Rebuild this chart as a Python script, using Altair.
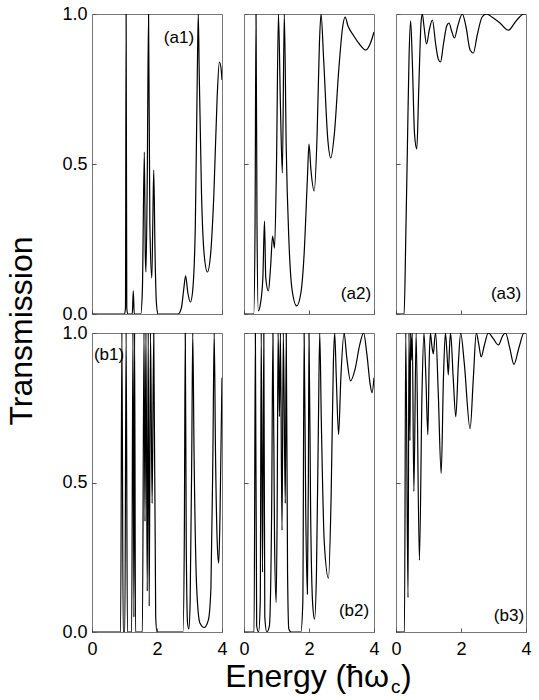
import altair as alt
import pandas as pd

FONT = "Liberation Sans"

# ---------------- data ----------------
a1_E = [0.0, 1.00, 1.03, 1.05, 1.07, 1.10, 1.24, 1.27, 1.30, 1.33, 1.50, 1.55, 1.61, 1.64, 1.66,
        1.70, 1.74, 1.78, 1.84, 1.87, 1.90, 1.94, 1.98, 2.03, 2.65, 2.75, 2.82, 2.88, 2.95, 3.03,
        3.10, 3.18, 3.24, 3.27, 3.30, 3.37, 3.45, 3.55, 3.65, 3.75, 3.85, 3.92, 3.97, 4.0]
a1_T = [0.0, 0.0, 0.02, 1.0, 0.02, 0.0, 0.0, 0.077, 0.0, 0.0, 0.0, 0.08, 0.54, 0.2, 0.14,
        0.45, 1.0, 0.3, 0.12, 0.3, 0.48, 0.2, 0.04, 0.0, 0.0, 0.02, 0.08, 0.127, 0.07, 0.04,
        0.08, 0.3, 0.8, 1.0, 0.8, 0.4, 0.2, 0.14, 0.2, 0.4, 0.72, 0.84, 0.82, 0.78]

a2_E = [0.0, 0.30, 0.34, 0.37, 0.40, 0.44, 0.50, 0.58, 0.63, 0.67, 0.75, 0.82, 0.88, 0.94, 1.00,
        1.06, 1.12, 1.18, 1.24, 1.30, 1.38, 1.48, 1.62, 1.75, 1.85, 1.95, 2.00, 2.06, 2.16, 2.25,
        2.32, 2.37, 2.45, 2.58, 2.67, 2.78, 2.92, 3.04, 3.11, 3.20, 3.36, 3.55, 3.75, 3.88, 4.0]
a2_T = [0.0, 0.0, 0.3, 1.0, 0.3, 0.01, 0.03, 0.12, 0.31, 0.12, 0.077, 0.16, 0.26, 0.22, 0.5,
        1.0, 0.7, 0.47, 1.0, 0.55, 0.25, 0.08, 0.027, 0.07, 0.2, 0.45, 0.566, 0.48, 0.41, 0.6,
        0.9, 1.0, 0.85, 0.58, 0.52, 0.6, 0.82, 0.96, 0.99, 0.96, 0.93, 0.9, 0.88, 0.9, 0.94]

a3_E = [0.0, 0.25, 0.30, 0.35, 0.40, 0.45, 0.50, 0.57, 0.64, 0.70, 0.77, 0.81, 0.86, 0.94, 1.03,
        1.12, 1.22, 1.30, 1.37, 1.46, 1.56, 1.63, 1.72, 1.80, 1.90, 2.04, 2.15, 2.28, 2.38, 2.50,
        2.65, 2.79, 2.95, 3.20, 3.46, 3.65, 3.80, 3.94, 4.0]
a3_T = [0.0, 0.0, 0.25, 0.55, 0.85, 0.977, 0.85, 0.6, 0.55, 0.75, 0.97, 1.0, 0.96, 0.90, 0.95,
        0.98, 0.9, 0.85, 0.84, 0.9, 0.96, 0.97, 0.94, 0.92, 0.96, 1.0, 0.96, 0.88, 0.87, 0.93,
        0.99, 1.0, 0.99, 0.97, 0.946, 0.97, 0.99, 1.0, 1.0]

b1_E = [0.0, 0.88, 0.92, 0.96, 1.01, 1.05, 1.09, 1.22, 1.26, 1.29, 1.31, 1.34, 1.55, 1.60, 1.63,
        1.66, 1.70, 1.73, 1.76, 1.80, 1.85, 1.90, 1.96, 2.00, 2.80, 2.84, 2.87, 2.90, 2.94, 2.98,
        3.02, 3.07, 3.10, 3.14, 3.22, 3.32, 3.45, 3.58, 3.66, 3.72, 3.76, 3.80, 3.86, 3.90, 3.94, 4.0]
b1_T = [0.0, 0.0, 1.0, 0.0, 0.0, 1.0, 0.0, 0.0, 1.0, 0.05, 1.0, 0.0, 0.0, 1.0, 0.37,
        1.0, 0.137, 1.0, 0.087, 1.0, 0.43, 1.0, 0.05, 0.0, 0.0, 0.3, 1.0, 0.3, 0.03, 0.01,
        0.1, 0.6, 1.0, 0.6, 0.15, 0.03, 0.015, 0.04, 0.15, 0.6, 1.0, 0.6, 0.28, 0.23, 0.4, 0.85]

b2_E = [0.0, 0.31, 0.35, 0.39, 0.45, 0.50, 0.53, 0.57, 0.61, 0.64, 0.70, 0.78, 0.85, 0.89, 0.94,
        0.99, 1.02, 1.05, 1.09, 1.12, 1.17, 1.21, 1.27, 1.30, 1.34, 1.38, 1.45, 1.75, 1.81, 1.85,
        1.90, 1.95, 1.98, 2.00, 2.05, 2.11, 2.17, 2.23, 2.29, 2.33, 2.38, 2.47, 2.60, 2.68, 2.75,
        2.79, 2.84, 2.91, 2.98, 3.08, 3.16, 3.28, 3.42, 3.56, 3.68, 3.78, 3.88, 3.94, 4.0]
b2_T = [0.0, 0.0, 1.0, 0.02, 0.0, 0.1, 1.0, 0.2, 1.0, 0.05, 0.0, 0.02, 0.4, 1.0, 0.3,
        0.098, 0.4, 1.0, 0.72, 1.0, 0.34, 1.0, 0.43, 1.0, 0.2, 0.01, 0.0, 0.0, 0.1, 1.0,
        0.4, 0.127, 0.5, 1.0, 0.4, 0.1, 0.043, 0.2, 0.7, 1.0, 0.7, 0.3, 0.18, 0.45, 0.9,
        1.0, 0.85, 0.66, 0.85, 1.0, 0.92, 0.84, 0.88, 0.96, 1.0, 0.93, 0.83, 0.80, 0.85]

b3_E = [0.0, 0.26, 0.30, 0.37, 0.40, 0.43, 0.45, 0.47, 0.50, 0.55, 0.62, 0.72, 0.80, 0.86, 0.92,
        0.98, 1.02, 1.06, 1.10, 1.15, 1.19, 1.22, 1.30, 1.39, 1.46, 1.52, 1.57, 1.61, 1.65, 1.68,
        1.76, 1.84, 1.92, 1.99, 2.10, 2.28, 2.38, 2.47, 2.55, 2.62, 2.72, 2.84, 3.00, 3.15, 3.28,
        3.37, 3.50, 3.63, 3.78, 3.94, 4.0]
b3_T = [0.0, 0.0, 1.0, 0.115, 1.0, 0.64, 1.0, 0.91, 1.0, 0.47, 1.0, 0.24, 0.8, 1.0, 0.85,
        0.66, 0.9, 1.0, 0.96, 0.93, 0.98, 1.0, 0.8, 0.53, 0.85, 1.0, 0.93, 0.86, 0.96, 1.0,
        0.85, 0.72, 0.9, 1.0, 0.9, 0.68, 0.85, 1.0, 0.96, 0.92, 0.96, 1.0, 0.98, 0.96, 0.99,
        1.0, 0.95, 0.895, 0.95, 1.0, 1.0]

panel_names = ["(a1)", "(a2)", "(a3)", "(b1)", "(b2)", "(b3)"]
label_E = [3.14, 3.91, 3.85, 0.06, 3.85, 3.94]
label_T = [0.92, 0.067, 0.067, 0.926, 0.07, 0.053]
label_align = ["right", "right", "right", "left", "right", "right"]

x_ticks = [0, 2, 4]
y_ticks = [0, 0.5, 1]

series_E = [a1_E, a2_E, a3_E, b1_E, b2_E, b3_E]
series_T = [a1_T, a2_T, a3_T, b1_T, b2_T, b3_T]

y_title = "Transmission"
x_title_main = "Energy (ħω"
x_title_sub = "c"
x_title_end = ")"

W = 130


def panel(i, height, show_x_labels, show_y_labels, extra=()):
    df = pd.DataFrame({"E": series_E[i], "T": series_T[i]})
    xaxis = alt.Axis(values=x_ticks, labels=show_x_labels, ticks=True, tickSize=4, offset=-4,
                     tickColor="#555", domain=False, grid=False, title=None,
                     labelFontSize=18, labelFont=FONT, labelColor="black",
                     labelPadding=8, labelFlush=False, format="d")
    yaxis = alt.Axis(values=y_ticks, labels=show_y_labels, ticks=True, tickSize=4, offset=-4,
                     tickColor="#555", domain=False, grid=False, title=None,
                     labelFontSize=18, labelFont=FONT, labelColor="black",
                     labelPadding=5, labelFlush=False, format=".1f")
    line = alt.Chart(df).mark_line(color="black", strokeWidth=1.2, interpolate="monotone",
                                   clip=True).encode(
        x=alt.X("E:Q", scale=alt.Scale(domain=[0, 4], nice=False, zero=False), axis=xaxis),
        y=alt.Y("T:Q", scale=alt.Scale(domain=[0, 1], nice=False), axis=yaxis),
    )
    ldf = pd.DataFrame({"E": [label_E[i]], "T": [label_T[i]], "t": [panel_names[i]]})
    lab = alt.Chart(ldf).mark_text(align=label_align[i], baseline="middle", fontSize=17,
                                   font=FONT, color="black").encode(
        x="E:Q", y="T:Q", text="t:N")
    return alt.layer(line, lab, *extra).properties(width=W, height=height)


one = pd.DataFrame({"k": [0]})
ytitle = alt.Chart(one).mark_text(text=y_title, angle=270, fontSize=32, font=FONT,
                                  align="center", baseline="alphabetic", color="black").encode(
    x=alt.value(-60), y=alt.value(317))
xt1 = alt.Chart(one).mark_text(text=x_title_main, fontSize=32, font=FONT, align="right",
                               baseline="alphabetic", color="black").encode(
    x=alt.value(145), y=alt.value(354))
xt2 = alt.Chart(one).mark_text(text=x_title_sub, fontSize=19, font=FONT, align="left",
                               baseline="alphabetic", color="black").encode(
    x=alt.value(147), y=alt.value(360))
xt3 = alt.Chart(one).mark_text(text=x_title_end, fontSize=32, font=FONT, align="left",
                               baseline="alphabetic", color="black").encode(
    x=alt.value(157), y=alt.value(354))

panels = [
    panel(0, 300, False, True, (ytitle,)),
    panel(1, 300, False, False),
    panel(2, 300, False, False),
    panel(3, 299, True, True),
    panel(4, 299, True, False, (xt1, xt2, xt3)),
    panel(5, 299, True, False),
]

chart = alt.concat(*panels, columns=3, spacing=alt.RowColnumber(row=19, column=22),
                   bounds="flush").properties(
    padding={"left": 5, "top": 4, "right": 5, "bottom": 2},
    background="white",
).configure_view(stroke="#777", strokeWidth=1)

chart.save("out.html", embed_options={"renderer": "svg", "actions": False})
